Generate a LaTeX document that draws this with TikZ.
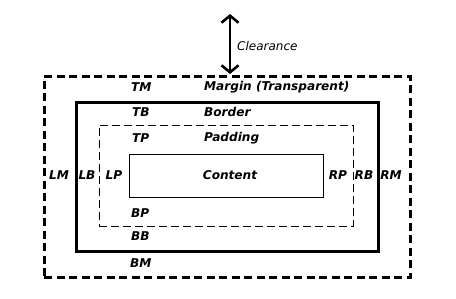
\documentclass[tikz,border=0pt]{standalone}
\usepackage{fontspec}
\setmainfont{DejaVu Sans}
\usetikzlibrary{arrows.meta}
\begin{document}
\begin{tikzpicture}[x=1pt,y=-1pt,
  lbl/.style={font=\fontsize{12.1}{13}\selectfont\bfseries\itshape, inner sep=0pt},
  lblw/.style={lbl, anchor=west},
  boxbase/.style={rectangle, inner sep=0pt, anchor=north west},
  marginbox/.style={boxbase, draw, line width=2.8pt, dash pattern=on 8pt off 4.5pt},
  borderbox/.style={boxbase, draw, line width=3pt},
  paddingbox/.style={boxbase, draw, line width=0.9pt, dash pattern=on 8pt off 4pt},
  contentbox/.style={boxbase, draw, line width=1pt},
  clear/.style={line width=2.6pt, {Straight Barb[length=7pt,width=17pt,line width=2.6pt]}-{Straight Barb[length=7pt,width=17pt,line width=2.6pt]}}
]
\useasboundingbox (0,0) rectangle (456,298);
\node[marginbox, minimum width=366pt, minimum height=201pt] (margin) at (43,75) {};
\node[borderbox, minimum width=302pt, minimum height=149pt] (border) at (75,101) {};
\node[paddingbox, minimum width=254pt, minimum height=101pt] (padding) at (99,125) {};
\node[contentbox, minimum width=194pt, minimum height=43pt] (content) at (129,154) {};

\coordinate (ctop) at (230,14);
\coordinate (cbot) at (230,74);
\draw[clear] (ctop) -- (cbot);
\node[font=\fontsize{12}{13}\selectfont\itshape, inner sep=0pt, anchor=west] (clr) at (237,46) {Clearance};

\node[lblw] (tm) at (131,87) {TM};
\node[lblw] (mt) at (204,87) {Margin (Transparent)};
\node[lblw] (tb) at (132,112) {TB};
\node[lblw] (bt) at (204,112) {Border};
\node[lblw] (tp) at (132,138) {TP};
\node[lblw] (pt) at (204,138) {Padding};
\node[lbl] (ct) at (230,175) {Content};
\node[lbl] (lm) at (59,175) {LM};
\node[lbl] (lb) at (87,175) {LB};
\node[lbl] (lp) at (114,175) {LP};
\node[lbl] (rp) at (338,175) {RP};
\node[lbl] (rb) at (364,175) {RB};
\node[lbl] (rm) at (391,175) {RM};
\node[lblw] (bp) at (131,213) {BP};
\node[lblw] (bb) at (131,236) {BB};
\node[lblw] (bm) at (130,263) {BM};
\end{tikzpicture}
\end{document}
